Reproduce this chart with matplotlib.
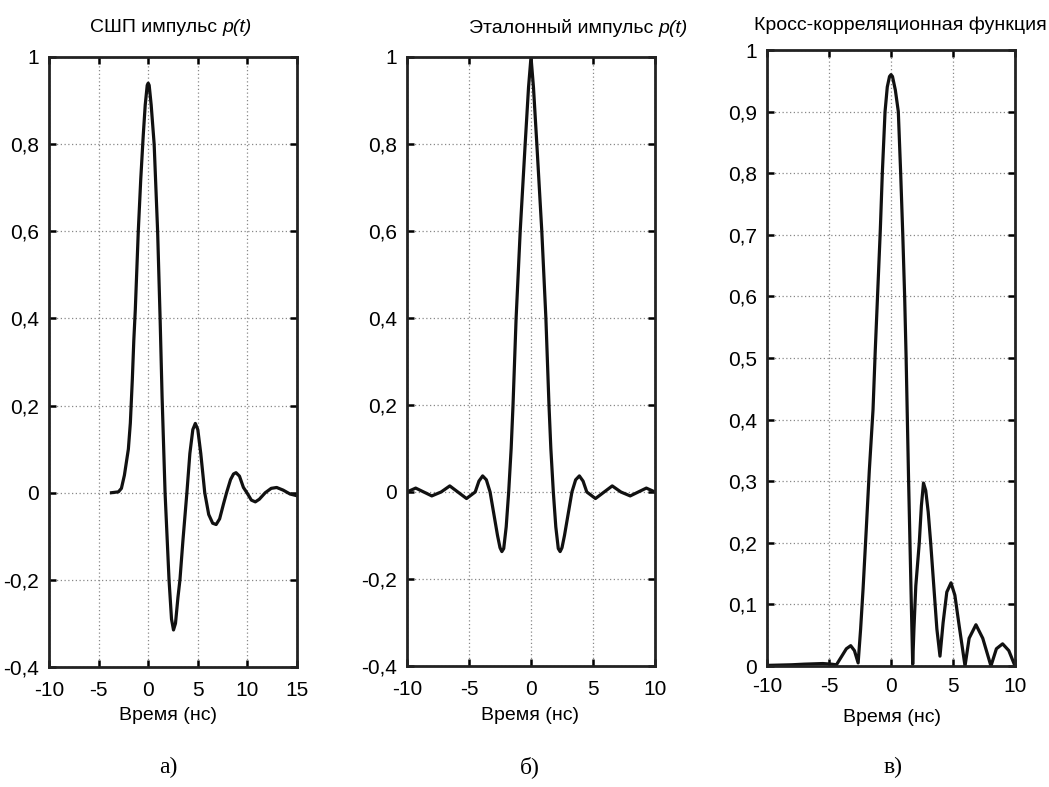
import matplotlib
matplotlib.use("Agg")
import matplotlib.pyplot as plt
from matplotlib.text import Annotation
from matplotlib.ticker import FuncFormatter

plt.rcParams['font.family'] = ['Liberation Sans', 'DejaVu Sans']
plt.rcParams['axes.unicode_minus'] = False

# panel a: UWB pulse p(t)
t_a = [-3.7, -3.0, -2.7, -2.4, -2.0, -1.8, -1.6, -1.45, -1.3, -1.0, -0.75, -0.5, -0.3, -0.1,
       0.0, 0.1, 0.3, 0.6, 0.95, 1.2, 1.4, 1.7, 1.9, 2.1, 2.35, 2.55, 2.75, 3.0, 3.2, 3.5,
       3.9, 4.2, 4.5, 4.75, 5.0, 5.3, 5.7, 6.1, 6.5, 6.85, 7.2, 7.6, 7.9, 8.3, 8.6, 8.85,
       9.2, 9.6, 9.95, 10.4, 10.8, 11.2, 11.8, 12.4, 12.95, 13.6, 14.3, 15.0]
p_a = [0.0, 0.002, 0.01, 0.04, 0.10, 0.16, 0.26, 0.35, 0.42, 0.60, 0.72, 0.82, 0.89, 0.935,
       0.94, 0.935, 0.89, 0.80, 0.60, 0.40, 0.22, 0.0, -0.10, -0.20, -0.29, -0.315, -0.30, -0.24, -0.20, -0.11,
       0.0, 0.09, 0.145, 0.159, 0.145, 0.09, 0.0, -0.05, -0.07, -0.073, -0.06, -0.025, 0.0, 0.03, 0.043, 0.046,
       0.038, 0.012, 0.0, -0.017, -0.021, -0.015, 0.0, 0.01, 0.012, 0.006, -0.003, -0.007]

# panel b: reference pulse
t_b = [-10, -9.3, -8.65, -8.0, -7.25, -6.55, -5.9, -5.2, -4.5, -4.2, -3.9, -3.6, -3.3, -3.0,
       -2.7, -2.5, -2.35, -2.2, -2.0, -1.8, -1.6, -1.45, -1.2, -0.87, -0.47, -0.2, 0.0,
       0.2, 0.47, 0.87, 1.2, 1.45, 1.6, 1.8, 2.0, 2.2, 2.35, 2.5, 2.7, 3.0, 3.3, 3.6, 3.9,
       4.2, 4.5, 5.2, 5.9, 6.55, 7.25, 8.0, 8.65, 9.3, 10]
p_b = [0.0, 0.009, 0.0, -0.009, 0.0, 0.014, 0.0, -0.015, 0.0, 0.025, 0.037, 0.028, 0.0, -0.05,
       -0.10, -0.128, -0.137, -0.13, -0.08, 0.0, 0.10, 0.20, 0.40, 0.60, 0.80, 0.93, 1.0,
       0.93, 0.80, 0.60, 0.40, 0.20, 0.10, 0.0, -0.08, -0.13, -0.137, -0.128, -0.10, -0.05, 0.0, 0.028, 0.037,
       0.025, 0.0, -0.015, 0.0, 0.014, 0.0, -0.009, 0.0, 0.009, 0.0]

# panel c: cross-correlation
t_c = [-10, -8, -7, -5.5, -4.8, -4.4, -4.0, -3.6, -3.25, -2.95, -2.65, -2.45, -2.25, -2.0,
       -1.75, -1.45, -1.27, -1.07, -0.86, -0.7, -0.48, -0.3, -0.12, 0.0, 0.12, 0.35, 0.59, 0.78, 0.95,
       1.1, 1.22, 1.32, 1.42, 1.53, 1.64, 1.75, 1.85, 2.0, 2.28, 2.45, 2.62, 2.8, 3.0, 3.2,
       3.45, 3.7, 3.95, 4.2, 4.5, 4.84, 5.15, 5.5, 5.97, 6.3, 6.85, 7.4, 8.06, 8.5, 9.0, 9.5, 10.0]
r_c = [0.001, 0.002, 0.003, 0.004, 0.003, 0.002, 0.015, 0.028, 0.033, 0.025, 0.005, 0.06, 0.126, 0.22,
       0.317, 0.416, 0.512, 0.608, 0.709, 0.80, 0.90, 0.94, 0.957, 0.96, 0.957, 0.935, 0.90, 0.80, 0.70,
       0.60, 0.50, 0.40, 0.30, 0.20, 0.10, 0.003, 0.06, 0.13, 0.20, 0.26, 0.297, 0.285, 0.25, 0.20,
       0.13, 0.06, 0.016, 0.07, 0.12, 0.135, 0.115, 0.065, 0.0, 0.045, 0.067, 0.045, 0.0, 0.028, 0.036, 0.025, 0.0]

xticks_a = [-10, -5, 0, 5, 10, 15]
xticks_bc = [-10, -5, 0, 5, 10]
yticks_ab = [-0.4, -0.2, 0, 0.2, 0.4, 0.6, 0.8, 1]
yticks_c = [0, 0.1, 0.2, 0.3, 0.4, 0.5, 0.6, 0.7, 0.8, 0.9, 1]


def comma_fmt(v, pos):
    return ('%g' % round(v, 2)).replace('.', ',')


fig = plt.figure(figsize=(10.49, 7.87), dpi=100)
W, H = 1049.0, 787.0


def make_axes(l, t, r, b):
    return fig.add_axes([l / W, 1 - b / H, (r - l) / W, (b - t) / H])


ax_a = make_axes(49, 57, 297, 667)
ax_b = make_axes(407, 57, 655, 666)
ax_c = make_axes(767, 50, 1015, 666)

panels = [
    (ax_a, t_a, p_a, (-10, 15), xticks_a, (-0.4, 1), yticks_ab, 10),
    (ax_b, t_b, p_b, (-10, 10), xticks_bc, (-0.4, 1), yticks_ab, 10),
    (ax_c, t_c, r_c, (-10, 10), xticks_bc, (0, 1), yticks_c, 8),
]

for ax, t, v, xl, xt, yl, yt, xpad in panels:
    ax.plot(t, v, color='#111111', lw=2.3, solid_joinstyle='round')
    ax.set_xlim(*xl)
    ax.set_ylim(*yl)
    ax.set_xticks(xt)
    ax.set_yticks(yt)
    ax.yaxis.set_major_formatter(FuncFormatter(comma_fmt))
    ax.grid(True, color='#888888', ls=(0, (1, 2)), lw=0.9)
    ax.tick_params(direction='in', top=True, right=True, length=5, width=1.8,
                   labelsize=15)
    ax.tick_params(axis='x', pad=xpad)
    ax.tick_params(axis='y', pad=7)
    for s in ax.spines.values():
        s.set_linewidth(2.0)
        s.set_color('#222222')

# titles (italic p(t) placed right after the upright part)
for xr, lab in ((217, 'СШП импульс'), (653, 'Эталонный импульс')):
    t1 = fig.text(xr / W, 1 - 28 / H, lab, ha='right', va='center', fontsize=14)
    fig.add_artist(Annotation('p(t)', xy=(1, 0), xycoords=t1,
                              xytext=(4, 0), textcoords='offset points',
                              va='bottom', ha='left', fontsize=14, fontstyle='italic'))
fig.text(900 / W, 1 - 25 / H, 'Кросс-корреляционная функция', ha='center', va='center', fontsize=14)

# x labels
fig.text(168 / W, 1 - 716 / H, 'Время (нс)', ha='center', va='center', fontsize=14)
fig.text(530 / W, 1 - 716 / H, 'Время (нс)', ha='center', va='center', fontsize=14)
fig.text(892 / W, 1 - 717 / H, 'Время (нс)', ha='center', va='center', fontsize=14)

# panel letters
for xc, lab in ((168, 'а)'), (530, 'б)'), (893, 'в)')):
    fig.text(xc / W, 1 - 767 / H, lab, ha='center', va='center', fontsize=17,
             family=['Liberation Serif', 'DejaVu Serif'])

fig.savefig('out.png', dpi=100)
